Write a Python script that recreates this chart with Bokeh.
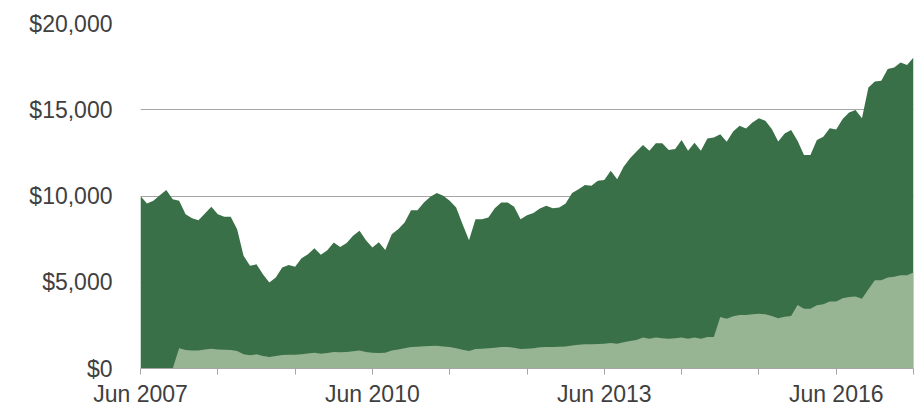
from bokeh.plotting import figure
from bokeh.models import ColumnDataSource, FixedTicker, NumeralTickFormatter, Range1d
from bokeh.embed import file_html
from bokeh.resources import INLINE

# months since Jun 2007 (monthly observations, Jun 2007 .. Jun 2017)
months = list(range(121))

# total portfolio value (dark green area)
total_value = [
    10000, 9560, 9720, 10040, 10350, 9810, 9720, 8940, 8710, 8600,
    8980, 9370, 8940, 8790, 8790, 8070, 6530, 5950, 6040, 5460,
    4980, 5270, 5850, 6000, 5905, 6390, 6620, 6970, 6590, 6860,
    7300, 7050, 7280, 7690, 7980, 7440, 7010, 7320, 6870, 7780,
    8070, 8460, 9180, 9180, 9620, 9950, 10170, 10010, 9720, 9330,
    8360, 7440, 8650, 8650, 8750, 9290, 9620, 9620, 9370, 8650,
    8890, 9020, 9270, 9430, 9290, 9330, 9560, 10180, 10390, 10640,
    10590, 10880, 10930, 11460, 10970, 11690, 12190, 12580, 12950, 12620,
    13060, 13060, 12660, 12720, 13250, 12620, 13080, 12620, 13330, 13390,
    13580, 13140, 13740, 14070, 13920, 14260, 14510, 14360, 13880, 13160,
    13620, 13820, 13200, 12380, 12380, 13240, 13430, 13930, 13850, 14460,
    14840, 14980, 14510, 16290, 16640, 16680, 17360, 17450, 17740, 17600,
    18030,
]

# lower component (light green area)
lower_value = [
    0, 0, 0, 0, 0, 0, 1170, 1070, 1050, 1050,
    1100, 1150, 1100, 1080, 1070, 1015, 820, 765, 820, 720,
    670, 720, 780, 800, 790, 830, 870, 920, 860, 900,
    960, 940, 960, 1000, 1050, 950, 920, 900, 920, 1050,
    1100, 1170, 1250, 1260, 1290, 1310, 1320, 1280, 1240, 1170,
    1090, 1015, 1130, 1150, 1170, 1200, 1250, 1250, 1200, 1130,
    1150, 1170, 1230, 1250, 1250, 1260, 1280, 1340, 1370, 1400,
    1410, 1420, 1440, 1480, 1440, 1520, 1600, 1650, 1790, 1730,
    1790, 1760, 1730, 1760, 1790, 1730, 1790, 1730, 1830, 1830,
    2990, 2890, 3030, 3100, 3100, 3150, 3180, 3140, 3050, 2910,
    3000, 3050, 3680, 3470, 3470, 3660, 3720, 3880, 3880, 4070,
    4150, 4170, 4050, 4590, 5120, 5120, 5270, 5320, 5410, 5410,
    5560,
]

x_tick_positions = [0, 36, 72, 108]
x_tick_labels = ["Jun 2007", "Jun 2010", "Jun 2013", "Jun 2016"]
x_minor_positions = [0, 12, 24, 36, 48, 60, 72, 84, 96, 108, 120]
y_ticks = [0, 5000, 10000, 15000, 20000]

DARK = "#3a7048"
LIGHT = "#97b493"
GRID = "#a6a6a6"
TEXT = "#404040"

source = ColumnDataSource(data=dict(m=months, total=total_value, lower=lower_value,
                                    zero=[0] * len(months)))

p = figure(width=919, height=409, output_backend="svg", toolbar_location=None,
           x_range=Range1d(0, 120), y_range=Range1d(0, 20000),
           min_border_left=140, min_border_right=6, min_border_top=23, min_border_bottom=41)
p.outline_line_color = None
p.background_fill_color = "white"
p.border_fill_color = "white"

p.varea(x="m", y1="zero", y2="total", source=source, fill_color=DARK, fill_alpha=1.0)
p.varea(x="m", y1="zero", y2="lower", source=source, fill_color=LIGHT, fill_alpha=1.0)

# grid
p.xgrid.grid_line_color = None
p.ygrid.ticker = FixedTicker(ticks=y_ticks)
p.ygrid.grid_line_color = GRID
p.ygrid.grid_line_width = 1

# y axis
yax = p.yaxis[0]
yax.ticker = FixedTicker(ticks=y_ticks)
yax.formatter = NumeralTickFormatter(format="$0,0")
yax.axis_line_color = None
yax.major_tick_line_color = None
yax.minor_tick_line_color = None
yax.major_tick_out = 0
yax.major_tick_in = 0
yax.major_label_standoff = 28
yax.major_label_text_font = "Liberation Sans"
yax.major_label_text_font_size = "23px"
yax.major_label_text_color = TEXT

# x axis
xax = p.xaxis[0]
xax.ticker = FixedTicker(ticks=x_tick_positions, minor_ticks=x_minor_positions)
xax.major_label_overrides = {pos: lab for pos, lab in zip(x_tick_positions, x_tick_labels)}
xax.axis_line_color = GRID
xax.axis_line_width = 1
xax.major_tick_out = 0
xax.major_tick_in = 0
xax.minor_tick_out = 6
xax.minor_tick_in = 0
xax.minor_tick_line_color = GRID
xax.major_label_standoff = 6
xax.major_label_text_font = "Liberation Sans"
xax.major_label_text_font_size = "23px"
xax.major_label_text_color = TEXT

open("out.html", "w").write(file_html(p, INLINE))
